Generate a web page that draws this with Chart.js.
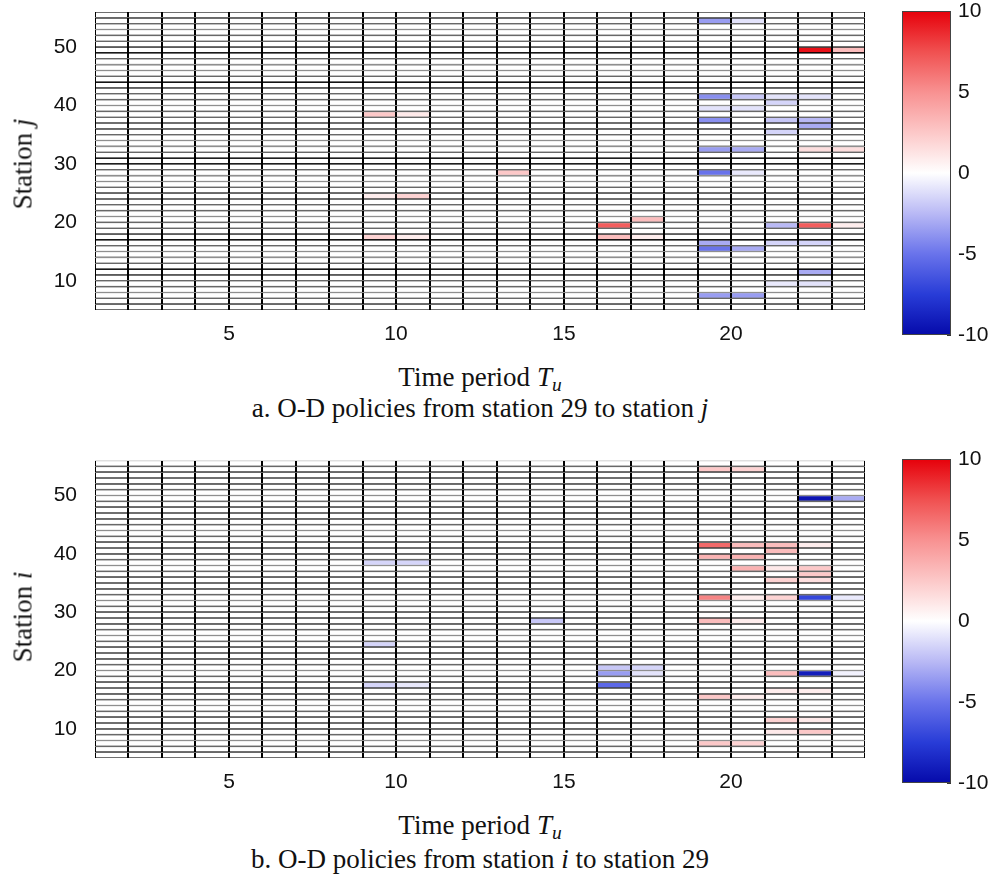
<!DOCTYPE html>
<html>
<head>
<meta charset="utf-8">
<script src="https://cdn.jsdelivr.net/npm/chart.js@4.4.1/dist/chart.umd.min.js"></script>
<style>
  html, body { margin: 0; padding: 0; background: #fff; }
  #page { position: relative; width: 996px; height: 894px; overflow: hidden; background: #fff; }
  canvas { position: absolute; }
  .lbl {
    position: absolute; transform: translate(-50%, -50%); white-space: nowrap;
    font-family: "Liberation Serif", "Times New Roman", serif; font-size: 27px;
    line-height: 1; color: #111;
  }
  .rot { transform: translate(-50%, -50%) rotate(-90deg); }
  sub { font-size: 0.72em; vertical-align: -0.3em; line-height: 0; }
</style>
</head>
<body>
<div id="page">
  <canvas id="heatA" width="880" height="350" style="left:0;top:0"></canvas>
  <canvas id="barA" width="116" height="350" style="left:880px;top:0"></canvas>
  <canvas id="heatB" width="880" height="350" style="left:0;top:448px"></canvas>
  <canvas id="barB" width="116" height="350" style="left:880px;top:448px"></canvas>

  <div class="lbl rot" style="left:23px;top:164px">Station <i>j</i></div>
  <div class="lbl" style="left:480px;top:377px">Time period <i>T<sub>u</sub></i></div>
  <div class="lbl" style="left:480px;top:408px">a. O-D policies from station 29 to station <i>j</i></div>

  <div class="lbl rot" style="left:23px;top:617px">Station <i>i</i></div>
  <div class="lbl" style="left:480px;top:825px">Time period <i>T<sub>u</sub></i></div>
  <div class="lbl" style="left:480px;top:859px">b. O-D policies from station <i>i</i> to station 29</div>
</div>

<script>
// time periods (cell starts) and stations (cell starts) of the pcolor grid
const periods = [1, 2, 3, 4, 5, 6, 7, 8, 9, 10, 11, 12, 13, 14, 15, 16, 17, 18, 19, 20, 21, 22, 23];
const stations = [5, 6, 7, 8, 9, 10, 11, 12, 13, 14, 15, 16, 17, 18, 19, 20, 21, 22, 23, 24, 25, 26, 27, 28, 29, 30,
  31, 32, 33, 34, 35, 36, 37, 38, 39, 40, 41, 42, 43, 44, 45, 46, 47, 48, 49, 50, 51, 52, 53, 54, 55];
const xTicks = [5, 10, 15, 20];
const yTicks = [10, 20, 30, 40, 50];
const barTicks = [-10, -5, 0, 5, 10];

// non-zero policy changes: [period, station, value]; every other cell is 0
const policiesFrom29 = [
  [9, 38, 2.5], [10, 38, 1], [9, 24, 0.8], [10, 24, 2], [9, 17, 2], [10, 17, 0.8],
  [13, 28, 2.5],
  [16, 19, 7], [17, 20, 3], [16, 17, 3], [17, 17, 0.8],
  [19, 54, -3.5], [20, 54, -1],
  [22, 49, 9.5], [23, 49, 3],
  [19, 41, -4], [20, 41, -2], [21, 41, -1], [22, 41, -1],
  [21, 40, -1.5],
  [19, 39, -1], [20, 39, -1],
  [19, 37, -4], [21, 37, -2], [22, 37, -2.5],
  [22, 36, -3],
  [21, 35, -1.5],
  [19, 32, -3.5], [20, 32, -3], [22, 32, 1.5], [23, 32, 1.5],
  [19, 28, -5], [20, 28, -0.8],
  [21, 19, -2.5], [22, 19, 7], [23, 19, 0.8],
  [19, 16, -3], [21, 16, -1.5], [22, 16, -1.5],
  [19, 15, -5], [20, 15, -3],
  [22, 11, -3],
  [21, 9, -0.8], [22, 9, -1],
  [19, 7, -3.5], [20, 7, -3.5]
];

const policiesTo29 = [
  [9, 38, -1.5], [10, 38, -1.5], [9, 24, -1.5], [9, 17, -1.5], [10, 17, -0.8],
  [14, 28, -2],
  [16, 20, -2], [17, 20, -1.5], [16, 19, -3.5], [17, 19, -1], [16, 17, -5.5],
  [19, 54, 2.5], [20, 54, 2],
  [22, 49, -9.5], [23, 49, -3],
  [19, 41, 6.5], [20, 41, 3], [21, 41, 3], [22, 41, 0.8],
  [21, 40, 3],
  [19, 39, 3.5], [20, 39, 3.5],
  [20, 37, 3.5], [21, 37, 1], [22, 37, 2.5],
  [22, 36, 2.5],
  [21, 35, 2], [22, 35, 1.5],
  [19, 32, 5.5], [20, 32, 0.8], [21, 32, 2], [22, 32, -7], [23, 32, -0.8],
  [19, 28, 3], [20, 28, 0.8],
  [21, 19, 3], [22, 19, -9], [23, 19, -0.5],
  [21, 16, 0.8], [22, 16, 0.8],
  [19, 15, 2.5], [20, 15, 0.8],
  [21, 11, 2], [22, 11, 1],
  [21, 9, 1], [22, 9, 2.5],
  [19, 7, 2.5], [20, 7, 2]
];

// blue-white-red colormap
const cmapStops = [-10, -7.5, -5, -2.5, 0, 2.5, 5, 7.5, 10];
const cmapRgb = [
  [5, 10, 170], [40, 60, 215], [105, 115, 235], [185, 185, 245], [255, 255, 255],
  [252, 200, 200], [248, 145, 145], [240, 80, 80], [230, 0, 10]
];
const cMin = -10, cMax = 10;

function heatColor(v) {
  v = Math.max(cMin, Math.min(cMax, v));
  let i = 0;
  while (i < cmapStops.length - 2 && v > cmapStops[i + 1]) i++;
  const t = (v - cmapStops[i]) / (cmapStops[i + 1] - cmapStops[i]);
  const a = cmapRgb[i], b = cmapRgb[i + 1];
  const c = a.map((x, k) => Math.round(x + (b[k] - x) * t));
  return `rgb(${c[0]},${c[1]},${c[2]})`;
}

Chart.defaults.font.family = '"Liberation Sans", Arial, sans-serif';
Chart.defaults.font.size = 21;
Chart.defaults.color = '#111';

function buildCells(cells) {
  const lookup = {};
  cells.forEach(([p, s, v]) => { lookup[p + ':' + s] = v; });
  const out = [];
  periods.forEach(p => {
    stations.forEach(s => {
      out.push({ x: [p, p + 1], y: s + 0.5, v: lookup[p + ':' + s] || 0 });
    });
  });
  return out;
}

// keep the plot box fixed: no label-driven padding on the axes
function fixX(height) {
  return s => { s.height = height; s.paddingLeft = 0; s.paddingRight = 0; };
}
function fixY(width) {
  return s => { s.width = width; s.paddingTop = 0; s.paddingBottom = 0; };
}

function heatmap(id, cells, padTop) {
  return new Chart(document.getElementById(id), {
    type: 'bar',
    data: {
      datasets: [{
        data: buildCells(cells),
        backgroundColor: ctx => heatColor(ctx.raw ? ctx.raw.v : 0),
        borderColor: '#000',
        borderWidth: { left: 1, right: 1, top: 0.8, bottom: 0.8 },
        borderSkipped: false,
        inflateAmount: 0,
        barPercentage: 1,
        categoryPercentage: 1,
        grouped: false
      }]
    },
    options: {
      indexAxis: 'y',
      responsive: false,
      animation: false,
      events: [],
      layout: { padding: { top: padTop, right: 15, left: 0, bottom: 0 } },
      plugins: { legend: { display: false }, tooltip: { enabled: false } },
      scales: {
        x: {
          type: 'linear', min: 1, max: 24, offset: false, alignToPixels: true,
          grid: { display: false, offset: false }, border: { display: false },
          ticks: { padding: 4, maxRotation: 0 },
          afterBuildTicks: s => { s.ticks = xTicks.map(v => ({ value: v })); },
          afterFit: fixX(40)
        },
        y: {
          type: 'linear', min: 5, max: 56, offset: false,
          grid: { display: false, offset: false }, border: { display: false },
          ticks: { padding: 10 },
          afterBuildTicks: s => { s.ticks = yTicks.map(v => ({ value: v })); },
          afterFit: fixY(95)
        }
      }
    }
  });
}

function colorbar(id) {
  return new Chart(document.getElementById(id), {
    type: 'bar',
    data: {
      labels: ['value'],
      datasets: [{
        data: [[cMin, cMax]],
        backgroundColor: ctx => {
          const chart = ctx.chart;
          if (!chart.chartArea) return '#fff';
          const y = chart.scales.y;
          const g = chart.ctx.createLinearGradient(0, y.getPixelForValue(cMin), 0, y.getPixelForValue(cMax));
          cmapStops.forEach((v, i) => {
            const c = cmapRgb[i];
            g.addColorStop((v - cMin) / (cMax - cMin), `rgb(${c[0]},${c[1]},${c[2]})`);
          });
          return g;
        },
        borderColor: '#444',
        borderWidth: 1,
        borderSkipped: false,
        inflateAmount: 0,
        barPercentage: 1,
        categoryPercentage: 1
      }]
    },
    options: {
      responsive: false,
      animation: false,
      events: [],
      layout: { padding: { top: 11, right: 0, left: 22, bottom: 15 } },
      plugins: { legend: { display: false }, tooltip: { enabled: false } },
      scales: {
        x: { display: false },
        y: {
          position: 'right', min: cMin, max: cMax,
          // short tick marks pointing into the bar
          grid: { display: true, drawOnChartArea: false, drawTicks: true, tickLength: -4, color: '#333', lineWidth: 1 },
          border: { display: false },
          ticks: { padding: 11 },
          afterBuildTicks: s => { s.ticks = barTicks.map(v => ({ value: v })); },
          afterFit: fixY(45)
        }
      }
    }
  });
}

heatmap('heatA', policiesFrom29, 12);
colorbar('barA');
heatmap('heatB', policiesTo29, 12.5);
colorbar('barB');
</script>
</body>
</html>
